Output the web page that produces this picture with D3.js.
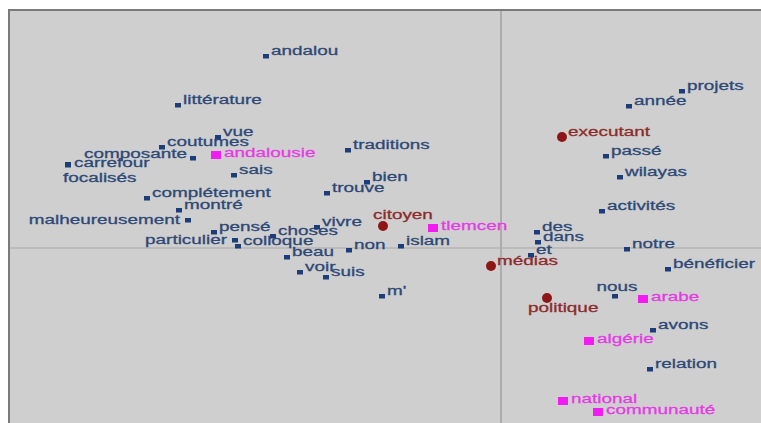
<!DOCTYPE html>
<html>
<head>
<meta charset="utf-8">
<script src="https://cdn.jsdelivr.net/npm/d3@7"></script>
<style>
  body { margin: 0; background: #fff; }
  text { font-family: "Liberation Sans", Arial, sans-serif; }
</style>
</head>
<body>
<div id="plot"></div>
<script>
// words of the factorial map, with their two coordinates
var words = ["andalou", "littérature", "vue", "coutumes", "composante", "andalousie", "carrefour", "focalisés",
  "sais", "complétement", "montré", "malheureusement", "pensé", "particulier", "colloque", "choses",
  "vivre", "beau", "non", "islam", "voir", "suis", "m'", "traditions", "bien", "trouve", "citoyen",
  "tlemcen", "executant", "projets", "année", "passé", "wilayas", "activités", "des", "dans", "et",
  "médias", "notre", "bénéficier", "nous", "arabe", "politique", "avons", "algérie", "relation",
  "national", "communauté"];

var axis1 = [-2.35, -3.23, -2.83, -3.39, -3.08, -2.85, -4.33, -4.33,
  -2.67, -3.54, -3.22, -3.13, -2.87, -2.66, -2.63, -2.28,
  -1.84, -2.14, -1.52, -1.00, -2.01, -1.75, -1.19, -1.53, -1.34, -1.74, -1.18,
  -0.68, 0.61, 1.81, 1.28, 1.05, 1.19, 1.01, 0.36, 0.37, 0.30,
  -0.10, 1.26, 1.67, 1.14, 1.42, 0.46, 1.52, 0.88, 1.49,
  0.62, 0.97];

var axis2 = [1.92, 1.43, 1.11, 1.01, 0.90, 0.93, 0.84, 0.83,
  0.73, 0.50, 0.38, 0.28, 0.16, 0.08, 0.02, 0.12,
  0.21, -0.09, -0.02, 0.02, -0.24, -0.29, -0.48, 0.98, 0.66, 0.55, 0.22,
  0.20, 1.11, 1.57, 1.42, 0.92, 0.71, 0.37, 0.16, 0.06, -0.07,
  -0.18, -0.01, -0.21, -0.48, -0.51, -0.50, -0.82, -0.93, -1.21,
  -1.53, -1.64];

// w = word, k = key word (pink), s = supplementary (red)
var groups = ["w", "w", "w", "w", "w", "k", "w", "w",
  "w", "w", "w", "w", "w", "w", "w", "w",
  "w", "w", "w", "w", "w", "w", "w", "w", "w", "w", "s",
  "k", "s", "w", "w", "w", "w", "w", "w", "w", "w",
  "s", "w", "w", "w", "k", "s", "w", "k", "w",
  "k", "k"];

// where the label sits next to its point
var labelSide = {
  "composante": "leftUp", "malheureusement": "left", "particulier": "left",
  "carrefour": "rightDown", "focalisés": "below", "nous": "above",
  "citoyen": "aboveRight", "politique": "belowRight"
};

var svgWidth = 761;
var svgHeight = 423;
var margin = { top: 10, right: 0, bottom: 0, left: 9 };

var svg = d3.select("#plot")
  .append("svg")
  .attr("width", svgWidth)
  .attr("height", svgHeight);

// plot background
svg.append("rect")
  .attr("x", margin.left)
  .attr("y", margin.top)
  .attr("width", svgWidth - margin.left)
  .attr("height", svgHeight - margin.top)
  .attr("fill", "#cfcfcf");

// 100 px per unit on both axes
var xScale = d3.scaleLinear()
  .domain([0, 1])
  .range([501, 601]);
var yScale = d3.scaleLinear()
  .domain([0, 1])
  .range([248, 148]);

// zero lines
svg.append("line")
  .attr("x1", xScale(0)).attr("x2", xScale(0))
  .attr("y1", margin.top).attr("y2", svgHeight)
  .attr("stroke", "#9a9a9a").attr("stroke-width", 1.3);
svg.append("line")
  .attr("x1", margin.left).attr("x2", svgWidth)
  .attr("y1", yScale(0)).attr("y2", yScale(0))
  .attr("stroke", "#a8a8a8").attr("stroke-width", 1.2);

// frame (top and left)
svg.append("path")
  .attr("d", `M${margin.left},${svgHeight} V${margin.top} H${svgWidth}`)
  .attr("fill", "none")
  .attr("stroke", "#7a7a7a")
  .attr("stroke-width", 2);

var points = words.map(function (w, i) {
  return { word: w, x: axis1[i], y: axis2[i], group: groups[i], side: labelSide[w] || "right" };
});

var colors = {
  w: { mark: "#1d3c7a", text: "#2d4876" },
  k: { mark: "#f21cf2", text: "#e63ae6" },
  s: { mark: "#8e1616", text: "#8c2b2b" }
};

var sx = 1.38;

// labels
svg.selectAll("text.lbl")
  .data(points)
  .enter()
  .append("text")
  .attr("class", "lbl")
  .attr("font-size", "13.7px")
  .attr("fill", d => colors[d.group].text)
  .attr("stroke", d => colors[d.group].text)
  .attr("stroke-width", 0.3)
  .attr("text-anchor", function (d) {
    if (d.side === "left" || d.side === "leftUp") return "end";
    if (d.side === "above") return "middle";
    return "start";
  })
  .attr("transform", function (d) {
    var px = xScale(d.x), py = yScale(d.y);
    var dx = 5, dy = -1;
    if (d.group === "k") { dx = 8; dy = 2; }
    if (d.group === "s") { dx = 6; dy = -1; }
    if (d.side === "left") { dx = -8; dy = 4; }
    if (d.side === "leftUp") { dx = -6; dy = 0; }
    if (d.side === "rightDown") { dx = 6; dy = 3; }
    if (d.side === "below") { dx = -5; dy = 17; }
    if (d.side === "above") { dx = 2; dy = -5; }
    if (d.side === "aboveRight") { dx = -10; dy = -7; }
    if (d.side === "belowRight") { dx = -19; dy = 14; }
    return `translate(${px + dx}, ${py + dy}) scale(${sx}, 1)`;
  })
  .text(d => d.word);

// square markers
svg.selectAll("rect.mark")
  .data(points.filter(d => d.group !== "s"))
  .enter()
  .append("rect")
  .attr("class", "mark")
  .attr("x", d => xScale(d.x) - (d.group === "k" ? 5 : 3))
  .attr("y", d => yScale(d.y) - (d.group === "k" ? 4 : 2))
  .attr("width", d => d.group === "k" ? 10 : 6)
  .attr("height", d => d.group === "k" ? 8 : 4.5)
  .attr("fill", d => colors[d.group].mark);

// circle markers
svg.selectAll("circle.mark")
  .data(points.filter(d => d.group === "s"))
  .enter()
  .append("circle")
  .attr("class", "mark")
  .attr("cx", d => xScale(d.x))
  .attr("cy", d => yScale(d.y))
  .attr("r", 5)
  .attr("fill", d => colors[d.group].mark);
</script>
</body>
</html>
